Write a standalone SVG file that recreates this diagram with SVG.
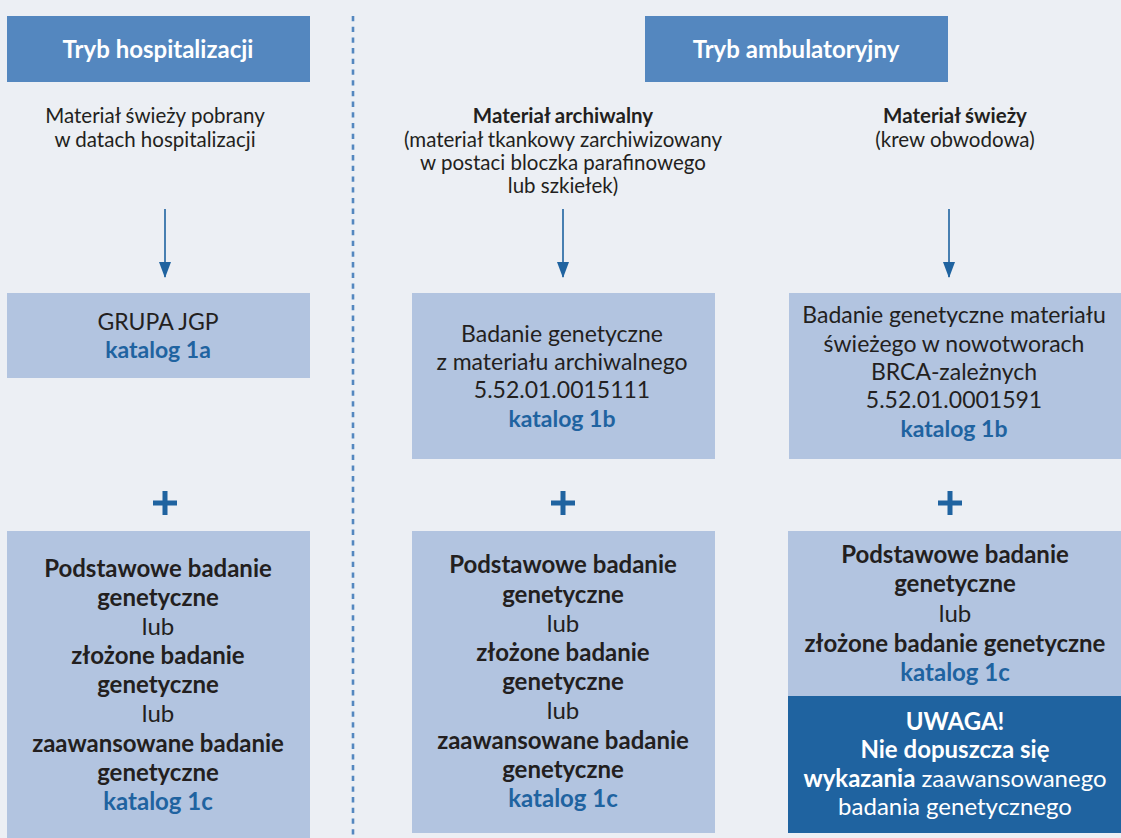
<svg xmlns="http://www.w3.org/2000/svg" width="1121" height="838" viewBox="0 0 1121 838">
<defs>
<style>
.bg{fill:#ECEFF4}
.hdr{fill:#5487BF}
.lt{fill:#B2C4E0}
.dk{fill:#1F63A0}
text{font-family:Lato,"Liberation Sans",sans-serif;text-anchor:middle;fill:#231F20}
.h{font-size:24px;font-weight:bold;fill:#FFFFFF}
.d{font-size:20.5px}
.b{font-weight:bold}
.t{font-size:24px}
.m{font-size:23px}
.k{fill:#1F63A0;font-weight:bold}
.w{fill:#FFFFFF}
.conn{stroke:#1F63A0;stroke-width:1.6;fill:none}
.plus{stroke:#1F63A0;stroke-width:5;fill:none}
</style>
<marker id="ah" viewBox="0 0 16 12" refX="15" refY="6" markerWidth="16" markerHeight="12" markerUnits="userSpaceOnUse" orient="auto">
<path d="M0,0 L16,6 L0,12 Z" fill="#1F63A0"/>
</marker>
</defs>
<rect class="bg" x="0" y="0" width="1121" height="838"/>
<line x1="353" y1="16" x2="353" y2="838" stroke="#5487BF" stroke-width="2.6" stroke-dasharray="5.3 5.4"/>

<g id="hdr-hosp">
<rect class="hdr" x="7" y="16" width="303" height="66"/>
<text class="h" x="158" y="58">Tryb hospitalizacji</text>
</g>
<g id="hdr-amb">
<rect class="hdr" x="645" y="16" width="303" height="66"/>
<text class="h" x="796" y="58">Tryb ambulatoryjny</text>
</g>

<g id="desc-hosp">
<text class="d" x="155" y="123">Materiał świeży pobrany</text>
<text class="d" x="155" y="147">w datach hospitalizacji</text>
</g>
<g id="desc-arch">
<text class="d b" x="563" y="123">Materiał archiwalny</text>
<text class="d" x="563" y="147">(materiał tkankowy zarchiwizowany</text>
<text class="d" x="563" y="170">w postaci bloczka parafinowego</text>
<text class="d" x="563" y="193">lub szkiełek)</text>
</g>
<g id="desc-fresh">
<text class="d b" x="955" y="123">Materiał świeży</text>
<text class="d" x="955" y="147">(krew obwodowa)</text>
</g>

<g id="connectors">
<line class="conn" x1="165" y1="209" x2="165" y2="277" marker-end="url(#ah)"/>
<line class="conn" x1="563" y1="209" x2="563" y2="277" marker-end="url(#ah)"/>
<line class="conn" x1="949" y1="209" x2="949" y2="277" marker-end="url(#ah)"/>
</g>

<g id="box-jgp">
<rect class="lt" x="7" y="293" width="303" height="85"/>
<text class="m" x="158" y="330">GRUPA JGP</text>
<text class="m k" x="158" y="358">katalog 1a</text>
</g>
<g id="box-arch">
<rect class="lt" x="412" y="293" width="303" height="166"/>
<text class="m" x="562" y="342">Badanie genetyczne</text>
<text class="m" x="562" y="370">z materiału archiwalnego</text>
<text class="m" x="562" y="398">5.52.01.0015111</text>
<text class="m k" x="562" y="427">katalog 1b</text>
</g>
<g id="box-fresh">
<rect class="lt" x="789" y="293" width="332" height="166"/>
<text class="m" x="954" y="323">Badanie genetyczne materiału</text>
<text class="m" x="954" y="352">świeżego w nowotworach</text>
<text class="m" x="954" y="380">BRCA-zależnych</text>
<text class="m" x="954" y="408">5.52.01.0001591</text>
<text class="m k" x="954" y="437">katalog 1b</text>
</g>

<g id="plus-1"><path class="plus" d="M153,503 H177 M165,491 V515"/></g>
<g id="plus-2"><path class="plus" d="M551,503 H575 M563,491 V515"/></g>
<g id="plus-3"><path class="plus" d="M938,503 H962 M950,491 V515"/></g>

<g id="box-c-hosp">
<rect class="lt" x="7" y="531" width="303" height="307"/>
<text class="t b" x="158" y="577">Podstawowe badanie</text>
<text class="t b" x="158" y="606">genetyczne</text>
<text class="t" x="158" y="635">lub</text>
<text class="t b" x="158" y="664">złożone badanie</text>
<text class="t b" x="158" y="693">genetyczne</text>
<text class="t" x="158" y="722">lub</text>
<text class="t b" x="158" y="752">zaawansowane badanie</text>
<text class="t b" x="158" y="781">genetyczne</text>
<text class="t k" x="158" y="810">katalog 1c</text>
</g>
<g id="box-c-arch">
<rect class="lt" x="412" y="531" width="303" height="302"/>
<text class="t b" x="563" y="573">Podstawowe badanie</text>
<text class="t b" x="563" y="603">genetyczne</text>
<text class="t" x="563" y="632">lub</text>
<text class="t b" x="563" y="661">złożone badanie</text>
<text class="t b" x="563" y="690">genetyczne</text>
<text class="t" x="563" y="719">lub</text>
<text class="t b" x="563" y="749">zaawansowane badanie</text>
<text class="t b" x="563" y="778">genetyczne</text>
<text class="t k" x="563" y="807">katalog 1c</text>
</g>
<g id="box-c-fresh">
<rect class="lt" x="788" y="531" width="333" height="165"/>
<text class="t b" x="955" y="563">Podstawowe badanie</text>
<text class="t b" x="955" y="592">genetyczne</text>
<text class="t" x="955" y="622">lub</text>
<text class="t b" x="955" y="652">złożone badanie genetyczne</text>
<text class="t k" x="955" y="681">katalog 1c</text>
</g>
<g id="box-uwaga">
<rect class="dk" x="788" y="696" width="333" height="137"/>
<text class="t b w" x="955" y="730">UWAGA!</text>
<text class="t b w" x="955" y="758">Nie dopuszcza się</text>
<text class="t w" x="955" y="787"><tspan class="b w">wykazania</tspan> zaawansowanego</text>
<text class="t w" x="955" y="815">badania genetycznego</text>
</g>
</svg>
